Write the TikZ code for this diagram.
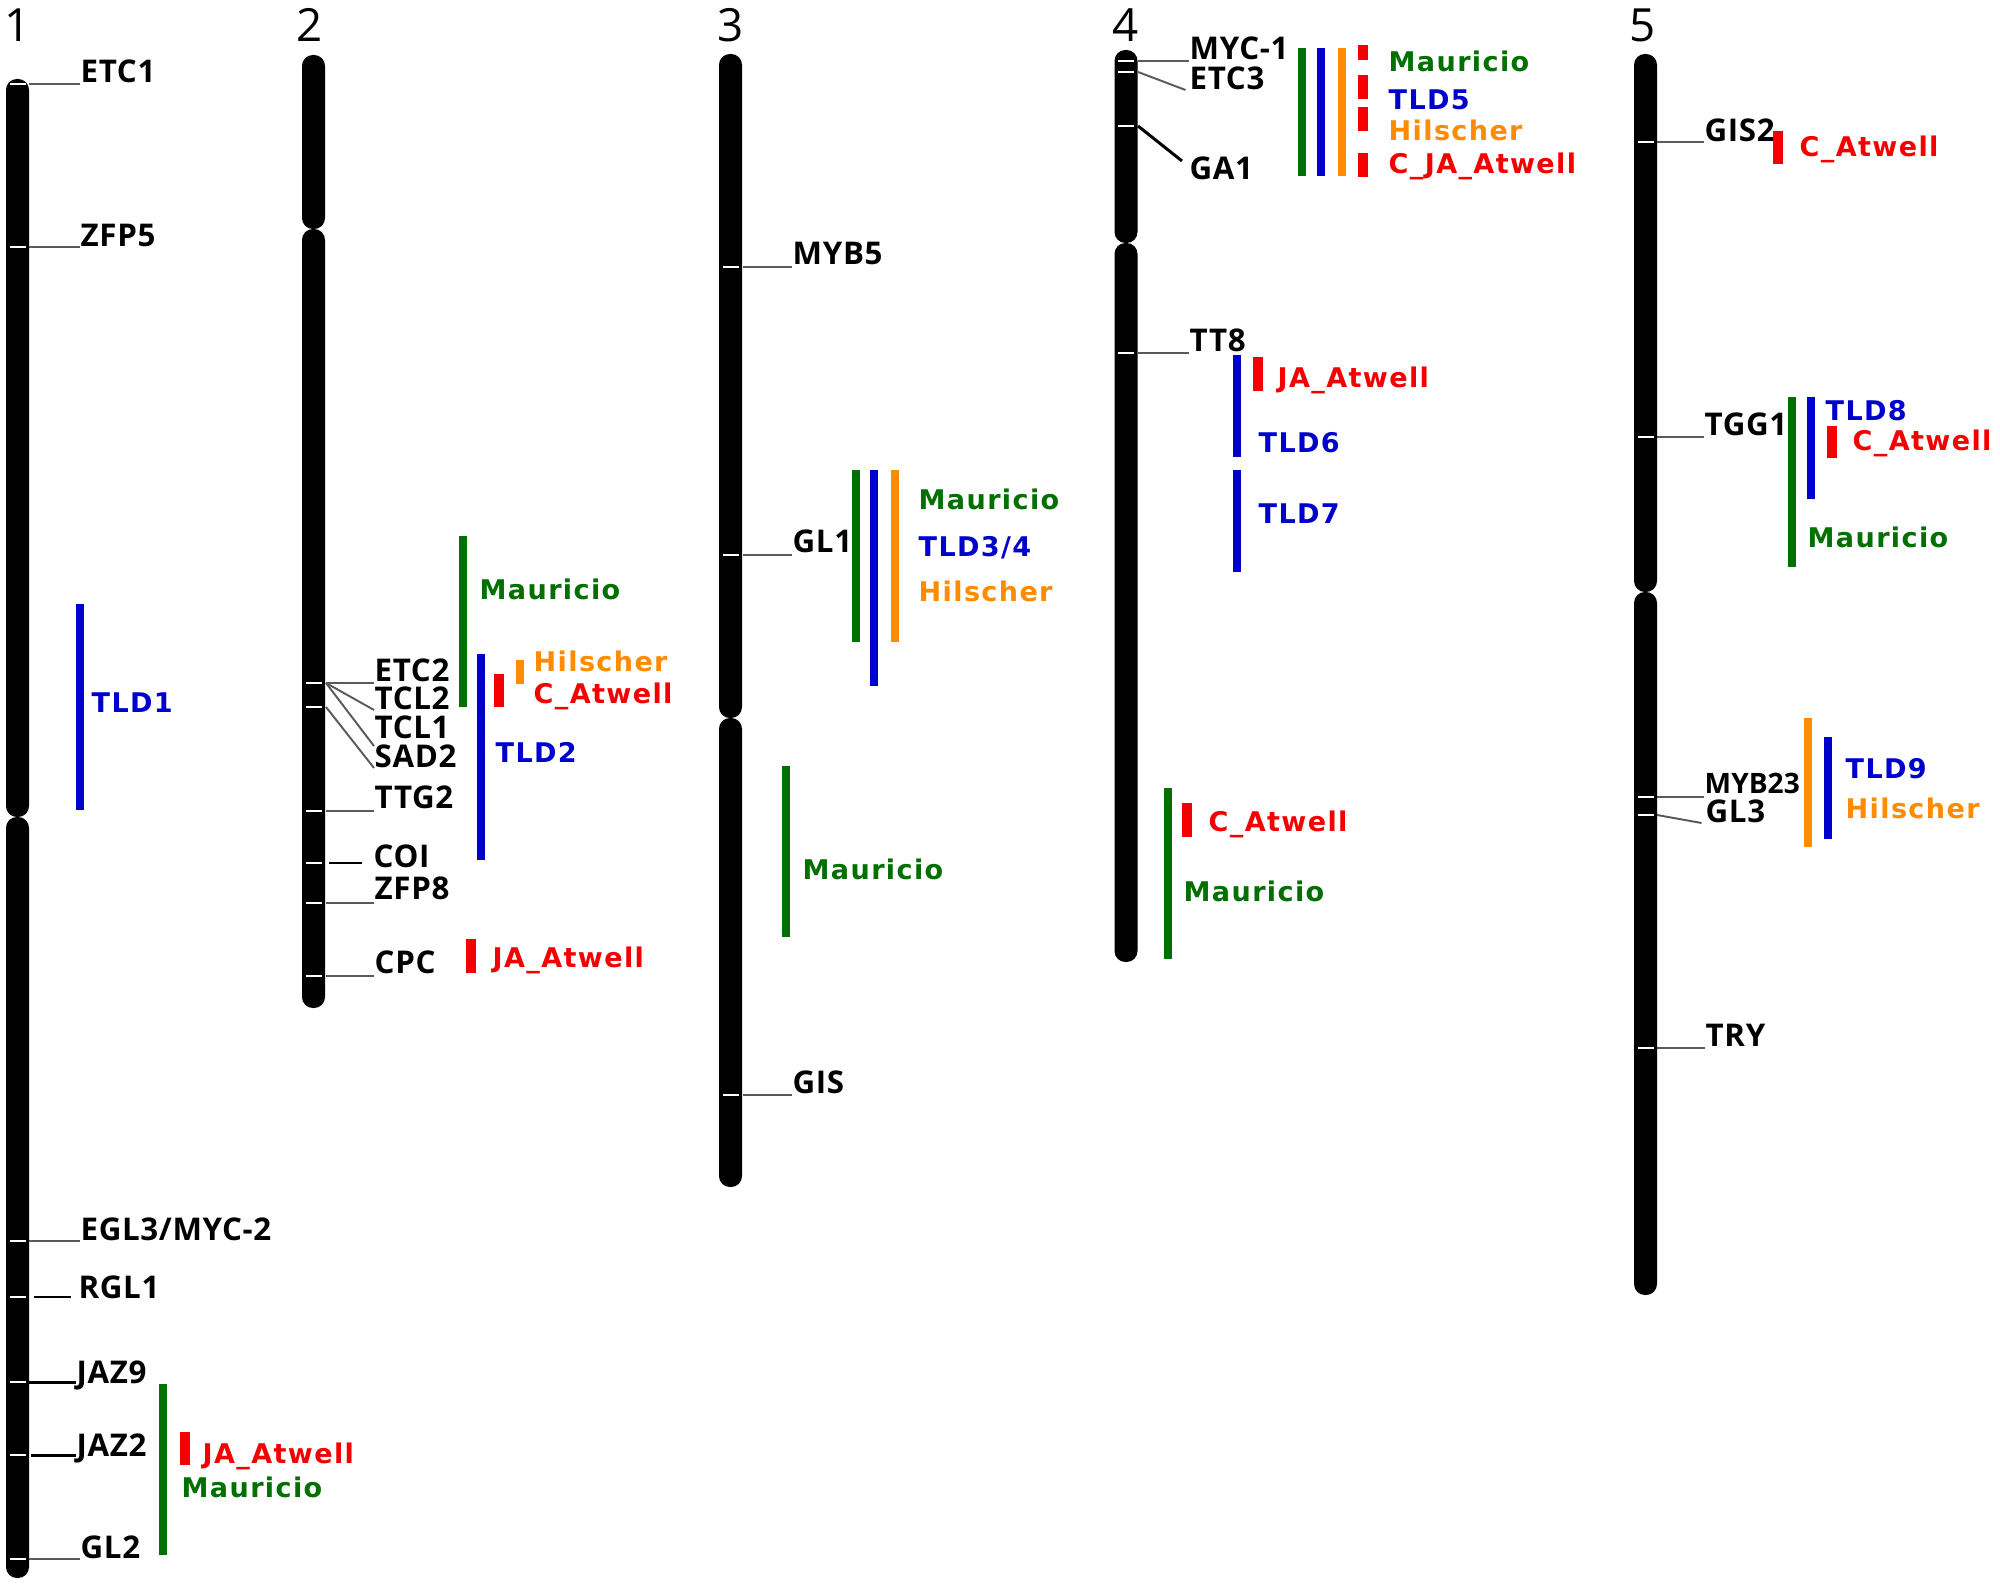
\documentclass[tikz,border=0pt]{standalone}
\usepackage{fontspec}
\setmainfont{Open Sans}
\newfontfamily\genefont[LetterSpace=2]{Open Sans}
\newfontfamily\genefonttight{Open Sans}
\newfontfamily\titlefont{Open Sans}
\newfontfamily\labfont[LetterSpace=5, BoldFont={DejaVu Sans Bold}]{DejaVu Sans}
\definecolor{mgreen}{RGB}{0,112,0}
\definecolor{mblue}{RGB}{0,0,205}
\definecolor{morange}{RGB}{255,140,0}
\definecolor{mred}{RGB}{245,0,0}
\definecolor{conngray}{RGB}{90,90,90}
\tikzset{
  gene/.style={inner sep=0pt, anchor=base west, font=\genefont\bfseries\fontsize{8.9}{10}\selectfont},
  lab/.style={inner sep=0pt, anchor=base west, font=\labfont\bfseries\fontsize{7.7}{9}\selectfont},
  title/.style={inner sep=0pt, anchor=base, font=\titlefont\fontsize{13}{14}\selectfont},
  conn/.style={draw=conngray, line width=0.55pt},
  connb/.style={draw=black, line width=0.85pt},
  tickm/.style={draw=white, line width=0.6pt},
  arm/.style={fill=black, rounded corners=3.1pt},
  gbar/.style={draw=mgreen, line width=2.3pt},
  bbar/.style={draw=mblue, line width=2.3pt},
  obar/.style={draw=morange, line width=2.3pt},
  rbar/.style={draw=mred, line width=2.8pt},
}
\newcommand\chromarm[3]{\fill[arm] ({#1-11.5},#2) rectangle ({#1+11.5},#3);}
\newcommand\tickat[2]{\draw[tickm] ({#1-8},#2) -- ({#1+8},#2);}
\begin{document}
\begin{tikzpicture}[x=0.01cm,y=-0.01cm]
\useasboundingbox[fill=white] (0,0) rectangle (2000,1586);

% ---------------- titles
\node[title] (t1) at (18,42) {1};
\node[title] (t2) at (310,42) {2};
\node[title] (t3) at (731,42) {3};
\node[title] (t4) at (1126,42) {4};
\node[title] (t5) at (1643,42) {5};

% ---------------- chromosome 1
\chromarm{17.5}{79}{817}
\chromarm{17.5}{817}{1578}
\foreach \y in {84,247,1241,1297,1382,1455,1559} {\tickat{17.5}{\y}}
\coordinate (c1a) at (29,84);
\coordinate (c1b) at (29,247);
\coordinate (c1c) at (29,1241);
\coordinate (c1d) at (34,1297);
\coordinate (c1e) at (28,1382);
\coordinate (c1f) at (31,1455);
\coordinate (c1g) at (29,1559);
\node[gene] (etc1) at (80,83) {ETC1};
\node[gene] (zfp5) at (80,247) {ZFP5};
\node[gene] (egl3) at (80,1240) {EGL3/MYC-2};
\node[gene] (rgl1) at (78,1298) {RGL1};
\node[gene] (jaz9) at (76,1383) {JAZ9};
\node[gene] (jaz2) at (76,1456) {JAZ2};
\node[gene] (gl2) at (80,1558) {GL2};
\draw[conn] (c1a) -- (c1a -| etc1.west);
\draw[conn] (c1b) -- (c1b -| zfp5.west);
\draw[conn] (c1c) -- (c1c -| egl3.west);
\draw[connb] (c1d) -- ([xshift=-2]c1d -| rgl1.west);
\draw[connb] (c1e) -- (c1e -| jaz9.west);
\draw[connb] (c1f) -- (c1f -| jaz2.west);
\draw[conn] (c1g) -- (c1g -| gl2.west);
\draw[bbar] (80,604) -- (80,810);
\node[lab, text=mblue] (tld1) at (91,713) {TLD1};
\draw[gbar] (163,1384) -- (163,1555);
\draw[rbar] (185,1432) -- (185,1465);
\node[lab, text=mred] (ja1) at (202,1463) {JA\_Atwell};
\node[lab, text=mgreen] (mau1) at (181,1497) {Mauricio};

% ---------------- chromosome 2
\chromarm{313.5}{55}{229}
\chromarm{313.5}{229}{1008}
\foreach \y in {683,707,811,863,903,976} {\tickat{313.5}{\y}}
\coordinate (c2a) at (326,683);
\coordinate (c2b) at (326,707);
\coordinate (c2c) at (326,811);
\coordinate (c2d) at (329,863);
\coordinate (c2e) at (326,903);
\coordinate (c2f) at (326,976);
\node[gene] (etc2) at (374,682) {ETC2};
\node[gene] (tcl2) at (374,710) {TCL2};
\node[gene] (tcl1) at (374,739) {TCL1};
\node[gene] (sad2) at (374,768) {SAD2};
\node[gene] (ttg2) at (374,809) {TTG2};
\node[gene] (coi) at (373,868) {COI};
\node[gene] (zfp8) at (374,900) {ZFP8};
\node[gene] (cpc) at (374,973) {CPC};
\draw[conn] (c2a) -- (c2a -| etc2.west);
\draw[conn] (c2a) -- (tcl2.base west);
\draw[conn] (c2a) -- ([yshift=-2]tcl1.base west);
\draw[conn] (c2b) -- (sad2.base west);
\draw[conn] (c2c) -- (c2c -| ttg2.west);
\draw[connb] (c2d) -- ([xshift=-3]c2d -| coi.west);
\draw[conn] (c2e) -- (c2e -| zfp8.west);
\draw[conn] (c2f) -- (c2f -| cpc.west);
\draw[gbar] (463,536) -- (463,707);
\draw[bbar] (481,654) -- (481,860);
\draw[rbar] (499,674) -- (499,707);
\draw[obar] (520,660) -- (520,684);
\node[lab, text=mgreen] (mau2) at (479,600) {Mauricio};
\node[lab, text=morange] (hil2) at (533,672) {Hilscher};
\node[lab, text=mred] (cat2) at (533,704) {C\_Atwell};
\node[lab, text=mblue] (tld2) at (495,763) {TLD2};
\draw[rbar] (471,939) -- (471,973);
\node[lab, text=mred] (ja2) at (492,968) {JA\_Atwell};

% ---------------- chromosome 3
\chromarm{730.5}{54}{718}
\chromarm{730.5}{718}{1187}
\foreach \y in {267,555,1095} {\tickat{730.5}{\y}}
\coordinate (c3a) at (743,267);
\coordinate (c3b) at (743,555);
\coordinate (c3c) at (743,1095);
\node[gene] (myb5) at (792,265) {MYB5};
\node[gene] (gl1) at (792,553) {GL1};
\node[gene] (gis) at (792,1093) {GIS};
\draw[conn] (c3a) -- (c3a -| myb5.west);
\draw[conn] (c3b) -- (c3b -| gl1.west);
\draw[conn] (c3c) -- (c3c -| gis.west);
\draw[gbar] (856,470) -- (856,642);
\draw[bbar] (874,470) -- (874,686);
\draw[obar] (895,470) -- (895,642);
\node[lab, text=mgreen] (mau3) at (918,510) {Mauricio};
\node[lab, text=mblue] (tld34) at (918,557) {TLD3/4};
\node[lab, text=morange] (hil3) at (918,602) {Hilscher};
\draw[gbar] (786,766) -- (786,937);
\node[lab, text=mgreen] (mau3b) at (802,880) {Mauricio};

% ---------------- chromosome 4
\chromarm{1126}{50}{243}
\chromarm{1126}{243}{962}
\foreach \y in {61,72,126,353} {\tickat{1126}{\y}}
\coordinate (c4a) at (1138,61);
\coordinate (c4b) at (1138,72);
\coordinate (c4c) at (1138,126);
\coordinate (c4d) at (1138,353);
\coordinate (c4ga) at (1182,161);
\node[gene] (myc1) at (1189,60) {MYC-1};
\node[gene] (etc3) at (1189,90) {ETC3};
\node[gene] (ga1) at (1189,180) {GA1};
\node[gene] (tt8) at (1189,352) {TT8};
\draw[conn] (c4a) -- (c4a -| myc1.west);
\draw[conn] (c4b) -- ([xshift=-1]etc3.base west);
\draw[connb] (c4c) -- (c4ga);
\draw[conn] (c4d) -- (c4d -| tt8.west);
\draw[gbar] (1302,48) -- (1302,176);
\draw[bbar] (1321,48) -- (1321,176);
\draw[obar] (1342,48) -- (1342,176);
\draw[rbar] (1363,45) -- (1363,60);
\draw[rbar] (1363,75) -- (1363,99);
\draw[rbar] (1363,107) -- (1363,131);
\draw[rbar] (1363,153) -- (1363,177);
\node[lab, text=mgreen] (mau4) at (1388,72) {Mauricio};
\node[lab, text=mblue] (tld5) at (1388,110) {TLD5};
\node[lab, text=morange] (hil4) at (1388,141) {Hilscher};
\node[lab, text=mred] (cja4) at (1388,174) {C\_JA\_Atwell};
\draw[bbar] (1237,355) -- (1237,457);
\draw[rbar] (1258,357) -- (1258,391);
\node[lab, text=mred] (ja4) at (1277,388) {JA\_Atwell};
\node[lab, text=mblue] (tld6) at (1258,453) {TLD6};
\draw[bbar] (1237,470) -- (1237,572);
\node[lab, text=mblue] (tld7) at (1258,524) {TLD7};
\draw[gbar] (1168,788) -- (1168,959);
\draw[rbar] (1187,803) -- (1187,837);
\node[lab, text=mred] (cat4) at (1208,832) {C\_Atwell};
\node[lab, text=mgreen] (mau4b) at (1183,902) {Mauricio};

% ---------------- chromosome 5
\chromarm{1645.5}{54}{592}
\chromarm{1645.5}{592}{1295}
\foreach \y in {142,437,797,815,1048} {\tickat{1645.5}{\y}}
\coordinate (c5a) at (1657,142);
\coordinate (c5b) at (1657,437);
\coordinate (c5c) at (1657,797);
\coordinate (c5d) at (1657,815);
\coordinate (c5e) at (1657,1048);
\node[gene] (gis2) at (1704,142) {GIS2};
\node[gene] (tgg1) at (1704,436) {TGG1};
\node[gene, font=\genefonttight\bfseries\fontsize{8.0}{10}\selectfont] (myb23) at (1704,794) {MYB23};
\node[gene] (gl3) at (1705,823) {GL3};
\node[gene] (try) at (1705,1047) {TRY};
\draw[conn] (c5a) -- (c5a -| gis2.west);
\draw[conn] (c5b) -- (c5b -| tgg1.west);
\draw[conn] (c5c) -- (c5c -| myb23.west);
\draw[conn] (c5d) -- ([xshift=-1]gl3.base west);
\draw[conn] (c5e) -- (c5e -| try.west);
\draw[rbar] (1778,131) -- (1778,164);
\node[lab, text=mred] (cat5) at (1799,157) {C\_Atwell};
\draw[gbar] (1792,397) -- (1792,567);
\draw[bbar] (1811,397) -- (1811,499);
\node[lab, text=mblue] (tld8) at (1825,421) {TLD8};
\draw[rbar] (1832,426) -- (1832,458);
\node[lab, text=mred] (cat5b) at (1852,451) {C\_Atwell};
\node[lab, text=mgreen] (mau5) at (1807,548) {Mauricio};
\draw[obar] (1808,718) -- (1808,847);
\draw[bbar] (1828,737) -- (1828,839);
\node[lab, text=mblue] (tld9) at (1845,779) {TLD9};
\node[lab, text=morange] (hil5) at (1845,819) {Hilscher};
\end{tikzpicture}
\end{document}
